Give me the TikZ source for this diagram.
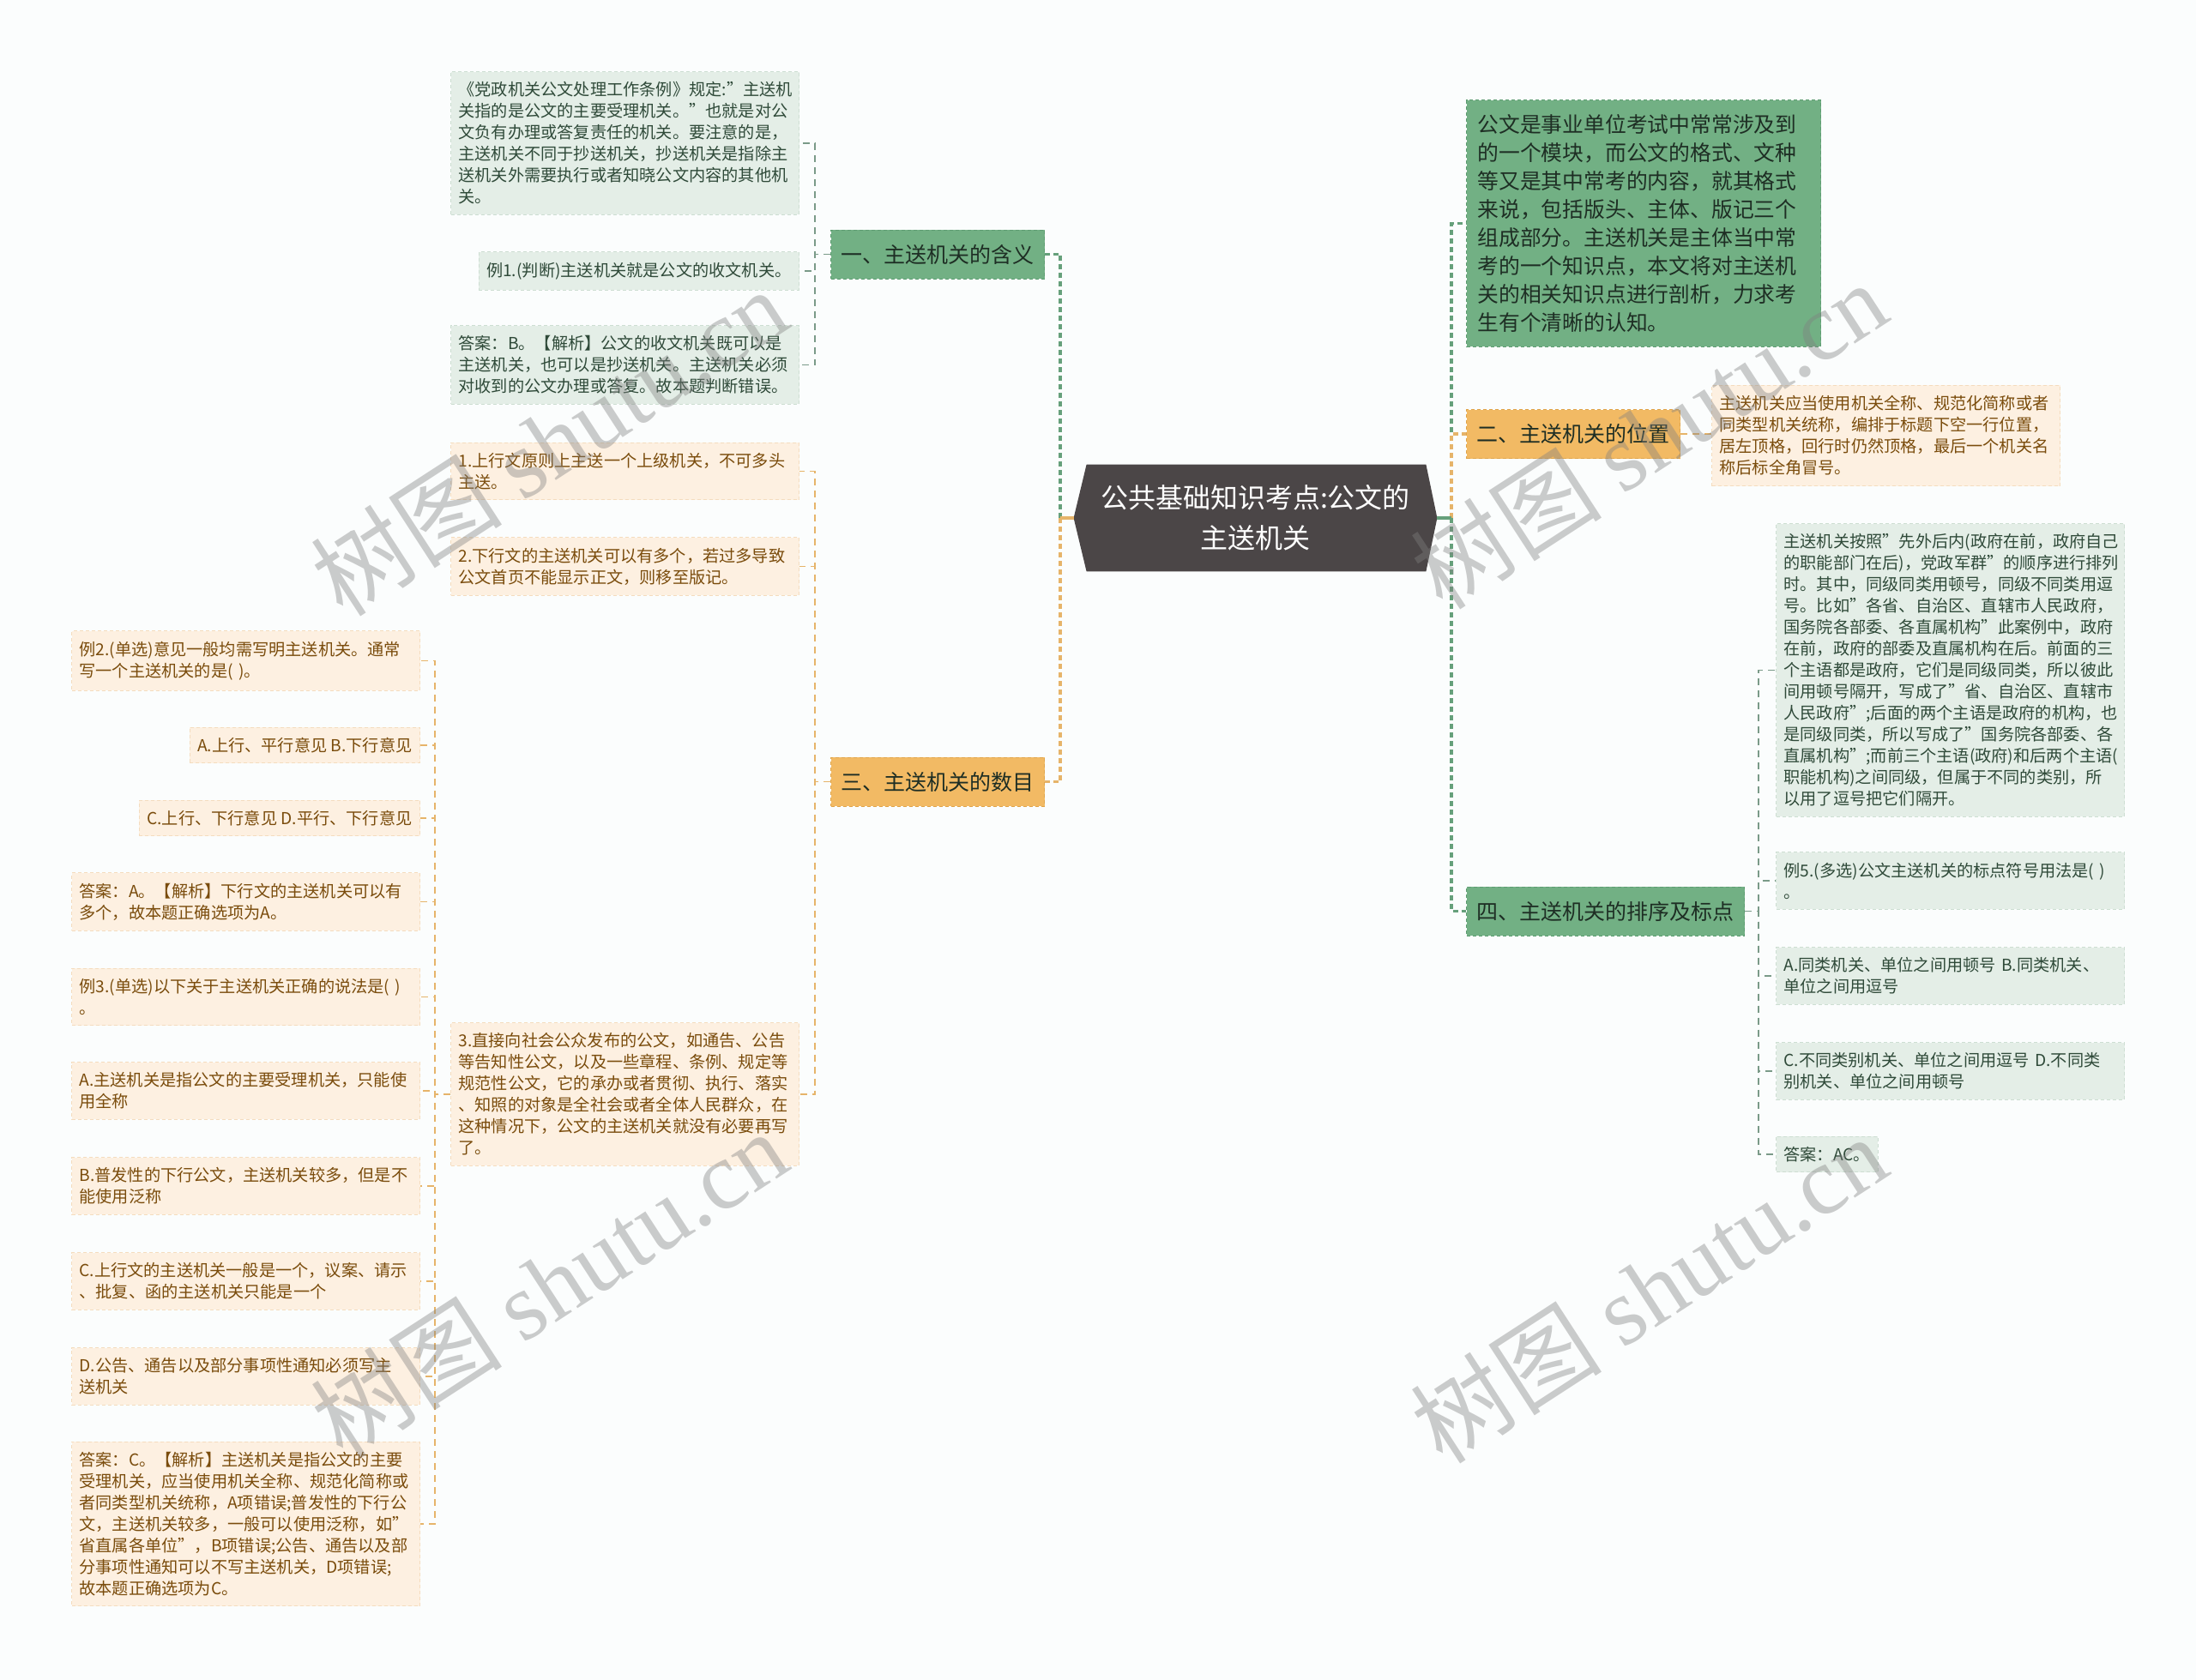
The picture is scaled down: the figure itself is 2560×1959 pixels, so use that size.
\documentclass[tikz,border=0pt]{standalone}
\usepackage{fontspec}
\setmainfont{Noto Sans CJK SC}
\newfontfamily\wmfont{Liberation Serif}
\usetikzlibrary{backgrounds}
\definecolor{bgcol}{HTML}{FBFDFD}
\definecolor{rootfill}{HTML}{4B4647}
\definecolor{greenfill}{HTML}{72B084}
\definecolor{greenedge}{HTML}{5E9C72}
\definecolor{orangefill}{HTML}{F2BA64}
\definecolor{orangeedge}{HTML}{E0A54C}
\definecolor{paleorange}{HTML}{FDF0E1}
\definecolor{paleorangeedge}{HTML}{F4DCBE}
\definecolor{palegreen}{HTML}{E4EEE7}
\definecolor{palegreenedge}{HTML}{CDDED2}
\definecolor{browntext}{HTML}{7A4C0C}
\definecolor{greentext}{HTML}{2F4A39}
\definecolor{darktext}{HTML}{1E2E24}
\definecolor{greenline}{HTML}{66A07B}
\definecolor{orangeline}{HTML}{E6B46A}
\definecolor{grayline}{HTML}{7A9A88}
\tikzset{
  root/.style= {minimum width=211.5pt, minimum height=62pt, text=white, align=center,
    font=\fontsize{16pt}{23.5pt}\selectfont},
  branch/.style= {draw, line width=0.5pt, dash pattern=on 2pt off 1.5pt, inner xsep=6pt,
    minimum height=28.5pt, text=darktext, font=\fontsize{12.5pt}{15pt}\selectfont},
  gbranch/.style= {branch, fill=greenfill, draw=greenedge},
  obranch/.style= {branch, fill=orangefill, draw=orangeedge},
  intro/.style= {draw=greenedge, fill=greenfill, line width=0.5pt, dash pattern=on 2pt off 1.5pt,
    text width=193.5pt, inner xsep=6.5pt, inner ysep=8.3pt, align=left, text=darktext,
    font=\fontsize{12.4pt}{16.5pt}\selectfont},
  leaf/.style= {draw, line width=0.5pt, dash pattern=on 2pt off 1.5pt, inner xsep=4.5pt,
    inner ysep=6pt, align=left, font=\fontsize{9.6pt}{12.5pt}\selectfont},
  wide/.style= {text width=194pt},
  gleaf/.style= {leaf, fill=palegreen, draw=palegreenedge, text=greentext},
  oleaf/.style= {leaf, fill=paleorange, draw=paleorangeedge, text=browntext},
  rootline/.style= {line width=1.6pt, dash pattern=on 3pt off 2pt},
  stub/.style= {line width=1.6pt},
  subline/.style= {line width=0.8pt, dash pattern=on 4pt off 3pt},
  watermark/.style= {rotate=33, text=gray, opacity=0.4, font=\fontsize{56pt}{56pt}\selectfont},
}

\begin{document}
\begin{tikzpicture}[x=0.5pt, y=-0.5pt]
  \begin{scope}[on background layer]
    \fill [bgcol] (0,0) rectangle (2560,1959);
  \end{scope}
  \useasboundingbox (0,0) rectangle (2560,1959);

  % centre
  \node [root] (root) at (1463.5,604) {公共基础知识考点:公文的\\主送机关};
  \begin{scope}[on background layer]
    \fill [rootfill] (root.west) -- ([xshift=7.5pt]root.north west) -- ([xshift=-6.5pt]root.north east)
      -- (root.east) -- ([xshift=-6.5pt]root.south east) -- ([xshift=7.5pt]root.south west) -- cycle;
  \end{scope}
  \coordinate (hubL) at (1236,604);
  \coordinate (hubR) at (1692,604);

  % left side
  \node [gbranch, anchor=east] (b1) at (1218,296.5) {一、主送机关的含义};
  \node [obranch, anchor=east] (b3) at (1218,911.5) {三、主送机关的数目};

  \node [gleaf, wide, anchor=east] (g1) at (932,167) {《党政机关公文处理工作条例》规定:"主送机\\关指的是公文的主要受理机关。"也就是对公\\文负有办理或答复责任的机关。要注意的是，\\主送机关不同于抄送机关，抄送机关是指除主\\送机关外需要执行或者知晓公文内容的其他机\\关。};
  \node [gleaf, anchor=east] (g2) at (932,316) {例1.(判断)主送机关就是公文的收文机关。};
  \node [gleaf, wide, anchor=east] (g3) at (932,425.5) {答案：B。【解析】公文的收文机关既可以是\\主送机关，也可以是抄送机关。主送机关必须\\对收到的公文办理或答复。故本题判断错误。};

  \node [oleaf, wide, anchor=east] (o1) at (932,549.5) {1.上行文原则上主送一个上级机关，不可多头\\主送。};
  \node [oleaf, wide, anchor=east] (o2) at (932,660.5) {2.下行文的主送机关可以有多个，若过多导致\\公文首页不能显示正文，则移至版记。};
  \node [oleaf, wide, anchor=east] (o3) at (932,1276) {3.直接向社会公众发布的公文，如通告、公告\\等告知性公文，以及一些章程、条例、规定等\\规范性公文，它的承办或者贯彻、执行、落实\\、知照的对象是全社会或者全体人民群众，在\\这种情况下，公文的主送机关就没有必要再写\\了。};

  \node [oleaf, wide, anchor=east] (c1) at (490,770.5) {例2.(单选)意见一般均需写明主送机关。通常\\写一个主送机关的是( )。};
  \node [oleaf, anchor=east] (c2) at (490,869) {A.上行、平行意见 B.下行意见};
  \node [oleaf, anchor=east] (c3) at (490,954) {C.上行、下行意见 D.平行、下行意见};
  \node [oleaf, wide, anchor=east] (c4) at (490,1051.5) {答案：A。【解析】下行文的主送机关可以有\\多个，故本题正确选项为A。};
  \node [oleaf, wide, anchor=east] (c5) at (490,1162.5) {例3.(单选)以下关于主送机关正确的说法是( )\\。};
  \node [oleaf, wide, anchor=east] (c6) at (490,1272) {A.主送机关是指公文的主要受理机关，只能使\\用全称};
  \node [oleaf, wide, anchor=east] (c7) at (490,1383) {B.普发性的下行公文，主送机关较多，但是不\\能使用泛称};
  \node [oleaf, wide, anchor=east] (c8) at (490,1494) {C.上行文的主送机关一般是一个，议案、请示\\、批复、函的主送机关只能是一个};
  \node [oleaf, wide, anchor=east] (c9) at (490,1605) {D.公告、通告以及部分事项性通知必须写主\\送机关};
  \node [oleaf, wide, anchor=east] (c10) at (490,1777) {答案：C。【解析】主送机关是指公文的主要\\受理机关，应当使用机关全称、规范化简称或\\者同类型机关统称，A项错误;普发性的下行公\\文，主送机关较多，一般可以使用泛称，如"\\省直属各单位"，B项错误;公告、通告以及部\\分事项性通知可以不写主送机关，D项错误;\\故本题正确选项为C。};

  % right side
  \node [intro, anchor=west] (intro) at (1709,260.5) {公文是事业单位考试中常常涉及到\\的一个模块，而公文的格式、文种\\等又是其中常考的内容，就其格式\\来说，包括版头、主体、版记三个\\组成部分。主送机关是主体当中常\\考的一个知识点，本文将对主送机\\关的相关知识点进行剖析，力求考\\生有个清晰的认知。};
  \node [obranch, anchor=west] (b2) at (1709,506) {二、主送机关的位置};
  \node [gbranch, anchor=west] (b4) at (1709,1062.5) {四、主送机关的排序及标点};

  \node [oleaf, wide, anchor=west] (p1) at (1995,508) {主送机关应当使用机关全称、规范化简称或者\\同类型机关统称，编排于标题下空一行位置，\\居左顶格，回行时仍然顶格，最后一个机关名\\称后标全角冒号。};

  \node [gleaf, wide, anchor=west] (r1) at (2070,781.5) {主送机关按照"先外后内(政府在前，政府自己\\的职能部门在后)，党政军群"的顺序进行排列\\时。其中，同级同类用顿号，同级不同类用逗\\号。比如"各省、自治区、直辖市人民政府，\\国务院各部委、各直属机构"此案例中，政府\\在前，政府的部委及直属机构在后。前面的三\\个主语都是政府，它们是同级同类，所以彼此\\间用顿号隔开，写成了"省、自治区、直辖市\\人民政府";后面的两个主语是政府的机构，也\\是同级同类，所以写成了"国务院各部委、各\\直属机构";而前三个主语(政府)和后两个主语(\\职能机构)之间同级，但属于不同的类别，所\\以用了逗号把它们隔开。};
  \node [gleaf, wide, anchor=west] (r2) at (2070,1027) {例5.(多选)公文主送机关的标点符号用法是( )\\。};
  \node [gleaf, wide, anchor=west] (r3) at (2070,1138) {A.同类机关、单位之间用顿号 B.同类机关、\\单位之间用逗号};
  \node [gleaf, wide, anchor=west] (r4) at (2070,1249) {C.不同类别机关、单位之间用逗号 D.不同类\\别机关、单位之间用顿号};
  \node [gleaf, anchor=west] (r5) at (2070,1346) {答案：AC。};

  % connectors
  \draw [rootline, greenline] (hubL) |- (b1.east);
  \draw [rootline, orangeline] (hubL) |- (b3.east);
  \draw [stub, orangeline] (root.west) -- (hubL);
  \draw [rootline, greenline] (hubR) |- (intro.west);
  \draw [rootline, orangeline] (hubR) |- (b2.west);
  \draw [rootline, greenline] (hubR) |- (b4.west);
  \draw [stub, greenline] (root.east) -- (hubR);

  \foreach \n in {g1,g2,g3}
    \draw [subline, grayline] (b1.west) -- ++(-18,0) |- (\n.east);
  \foreach \n in {o1,o2,o3}
    \draw [subline, orangeline] (b3.west) -- ++(-18,0) |- (\n.east);
  \foreach \n in {c1,c2,c3,c4,c5,c6,c7,c8,c9,c10}
    \draw [subline, orangeline] (o3.west) -- ++(-18,0) |- (\n.east);
  \draw [subline, orangeline] (b2.east) -- (b2.east -| p1.west);
  \foreach \n in {r1,r2,r3,r4,r5}
    \draw [subline, grayline] (b4.east) -- ++(16,0) |- (\n.west);

  % watermarks
  \foreach \x/\y [count=\i] in {640/515, 1922/507, 640/1497, 1922/1503}
    \node [watermark] (wm\i) at (\x,\y) {树图 {\wmfont shutu.cn}};
\end{tikzpicture}
\end{document}
